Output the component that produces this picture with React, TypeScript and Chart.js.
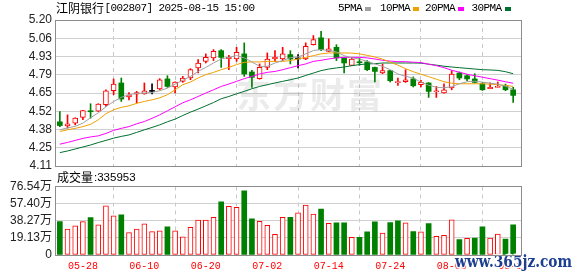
import React, { useEffect, useRef } from 'react';
import { Chart, registerables } from 'chart.js';

Chart.register(...registerables);

// ---------- data ----------
const stockName = '江阴银行';
const stockCode = '002807';
const stamp = '2025-08-15 15:00';
const volTitle = '成交量';
const lastVolume = '335953';
const watermarkCN = '东方财富';
const watermarkSite = 'www.365jz.com';

const dateLabels = ['05-28', '06-10', '06-20', '07-02', '07-14', '07-24', '08-05', '08-15'];
const dateIndex = [3, 11, 19, 27, 35, 43, 51, 59];

const priceLabels = ['4.11', '4.25', '4.38', '4.52', '4.65', '4.79', '4.93', '5.06', '5.20'];
const volLabels = ['0', '19.13万', '38.27万', '57.40万', '76.54万'];
const PRICE_MIN = 4.11;
const PRICE_MAX = 5.2;
const VOL_MAX = 76.54;

const opens = [4.440, 4.410, 4.430, 4.472, 4.522, 4.520, 4.567, 4.672, 4.730, 4.625,
  4.647, 4.649, 4.667, 4.685, 4.760, 4.700, 4.742, 4.767, 4.842, 4.891,
  4.917, 4.971, 4.912, 4.909, 4.947, 4.812, 4.762, 4.846, 4.909, 4.909,
  4.942, 4.909, 4.909, 5.016, 5.067, 4.966, 4.996, 4.917, 4.861, 4.886,
  4.887, 4.846, 4.804, 4.822, 4.732, 4.739, 4.760, 4.717, 4.730, 4.664,
  4.655, 4.692, 4.804, 4.784, 4.760, 4.724, 4.687, 4.697, 4.709, 4.679];
const highs = [4.517, 4.492, 4.470, 4.526, 4.575, 4.575, 4.679, 4.760, 4.767, 4.659,
  4.667, 4.730, 4.724, 4.762, 4.784, 4.739, 4.779, 4.837, 4.904, 4.947,
  4.979, 4.979, 4.936, 4.996, 5.029, 4.824, 4.872, 4.954, 4.971, 4.996,
  4.971, 4.942, 5.029, 5.084, 5.116, 5.059, 5.016, 4.919, 4.919, 4.917,
  4.897, 4.848, 4.872, 4.825, 4.767, 4.829, 4.775, 4.749, 4.732, 4.704,
  4.724, 4.822, 4.812, 4.792, 4.799, 4.734, 4.730, 4.737, 4.722, 4.697];
const lows = [4.404, 4.392, 4.417, 4.455, 4.467, 4.517, 4.554, 4.642, 4.592, 4.604,
  4.580, 4.646, 4.649, 4.679, 4.697, 4.655, 4.735, 4.754, 4.804, 4.879,
  4.897, 4.846, 4.829, 4.891, 4.779, 4.697, 4.758, 4.829, 4.891, 4.897,
  4.872, 4.842, 4.904, 5.013, 4.971, 4.964, 4.897, 4.804, 4.859, 4.861,
  4.822, 4.737, 4.799, 4.737, 4.712, 4.734, 4.700, 4.700, 4.622, 4.622,
  4.653, 4.679, 4.754, 4.747, 4.730, 4.674, 4.687, 4.697, 4.672, 4.584];
const closes = [4.412, 4.425, 4.467, 4.524, 4.515, 4.572, 4.672, 4.722, 4.610, 4.642,
  4.659, 4.672, 4.667, 4.754, 4.704, 4.737, 4.767, 4.829, 4.879, 4.921,
  4.966, 4.921, 4.921, 4.959, 4.797, 4.772, 4.846, 4.909, 4.924, 4.947,
  4.909, 4.909, 5.004, 5.054, 4.979, 4.984, 4.917, 4.879, 4.909, 4.881,
  4.829, 4.816, 4.822, 4.747, 4.737, 4.754, 4.709, 4.734, 4.667, 4.670,
  4.679, 4.797, 4.767, 4.760, 4.734, 4.679, 4.697, 4.704, 4.679, 4.637];

const ma5 = [4.380, 4.395, 4.406, 4.430, 4.470, 4.507, 4.552, 4.592, 4.623, 4.642,
  4.653, 4.655, 4.659, 4.672, 4.691, 4.721, 4.750, 4.779, 4.816, 4.846,
  4.879, 4.909, 4.921, 4.934, 4.917, 4.887, 4.854, 4.854, 4.879, 4.897,
  4.919, 4.924, 4.947, 4.972, 4.979, 4.972, 4.962, 4.934, 4.917, 4.909,
  4.891, 4.872, 4.854, 4.829, 4.797, 4.780, 4.766, 4.736, 4.713, 4.698,
  4.694, 4.702, 4.724, 4.739, 4.743, 4.736, 4.728, 4.721, 4.706, 4.683];
const ma10 = [4.368, 4.380, 4.391, 4.404, 4.421, 4.455, 4.500, 4.530, 4.548, 4.559,
  4.578, 4.592, 4.604, 4.619, 4.642, 4.679, 4.717, 4.737, 4.767, 4.792,
  4.809, 4.829, 4.846, 4.867, 4.884, 4.887, 4.887, 4.891, 4.891, 4.891,
  4.897, 4.909, 4.921, 4.934, 4.947, 4.954, 4.954, 4.954, 4.953, 4.947,
  4.936, 4.924, 4.908, 4.885, 4.863, 4.837, 4.814, 4.795, 4.777, 4.758,
  4.739, 4.728, 4.724, 4.724, 4.724, 4.724, 4.721, 4.717, 4.712, 4.704];
const ma20 = [4.273, 4.286, 4.301, 4.316, 4.327, 4.335, 4.353, 4.376, 4.391, 4.404,
  4.425, 4.442, 4.466, 4.492, 4.522, 4.552, 4.582, 4.604, 4.629, 4.655,
  4.679, 4.704, 4.722, 4.742, 4.762, 4.779, 4.797, 4.809, 4.816, 4.829,
  4.844, 4.859, 4.872, 4.891, 4.899, 4.909, 4.917, 4.921, 4.921, 4.921,
  4.917, 4.909, 4.899, 4.893, 4.889, 4.889, 4.885, 4.882, 4.870, 4.859,
  4.844, 4.825, 4.810, 4.795, 4.784, 4.773, 4.762, 4.751, 4.739, 4.728];
const ma30 = [4.210, 4.222, 4.237, 4.252, 4.267, 4.285, 4.301, 4.318, 4.331, 4.342,
  4.361, 4.380, 4.398, 4.417, 4.440, 4.460, 4.487, 4.512, 4.535, 4.559,
  4.584, 4.612, 4.629, 4.649, 4.667, 4.687, 4.704, 4.717, 4.730, 4.742,
  4.754, 4.767, 4.786, 4.804, 4.822, 4.834, 4.842, 4.849, 4.859, 4.867,
  4.872, 4.874, 4.879, 4.879, 4.879, 4.879, 4.879, 4.878, 4.870, 4.863,
  4.855, 4.849, 4.844, 4.839, 4.834, 4.829, 4.827, 4.824, 4.814, 4.799];

// volume in 万
const volumes = [37.3, 29.1, 32.5, 37.3, 41.8, 33.6, 54.9, 43.7, 44.8, 25.0,
  29.1, 34.7, 26.1, 26.9, 31.4, 26.9, 20.2, 31.0, 38.9, 38.9,
  42.2, 59.4, 54.5, 53.4, 71.7, 40.3, 37.7, 33.2, 23.2, 42.2,
  42.2, 47.1, 55.7, 45.6, 51.2, 35.5, 35.9, 35.9, 19.8, 19.8,
  25.8, 37.0, 24.6, 36.2, 38.1, 35.9, 26.1, 25.8, 35.1, 20.9,
  22.0, 39.2, 17.2, 18.7, 19.0, 31.4, 19.0, 23.5, 17.9, 33.6];
const volumeUp = [0, 1, 1, 1, 0, 1, 1, 1, 0, 1,
  1, 1, 1, 1, 0, 1, 1, 1, 1, 1,
  1, 0, 1, 1, 0, 0, 1, 1, 1, 1,
  0, 1, 1, 1, 0, 1, 0, 0, 1, 0,
  0, 0, 1, 0, 0, 1, 0, 1, 0, 1,
  1, 1, 0, 1, 0, 0, 1, 1, 0, 0];

const maNames = ['5PMA', '10PMA', '20PMA', '30PMA'];

// ---------- styles ----------
const RED = '#ff0000';
const GREEN = '#008000';
const BLACK = '#000000';
const MA_COLORS = ['#a0a0a0', '#f0a000', '#ff00ff', '#00702e'];
const GRID = '#d0d0d0';
const FRAME = '#8c8c8c';
const sansFont = "'Liberation Sans', 'Noto Sans CJK SC', sans-serif";
const monoFont = "'Liberation Mono', 'DejaVu Sans Mono', monospace";
const cjkFont = "'Noto Sans CJK SC', sans-serif";

const X_MIN = -0.5;
const X_MAX = 60.15;

const idx = closes.map((_, i) => i);
const candleColor = (i: number) => (closes[i] > opens[i] ? RED : closes[i] < opens[i] ? GREEN : BLACK);

const framePlugin = {
  id: 'frame',
  afterDraw(chart: any) {
    const { ctx, chartArea: a } = chart;
    ctx.save();
    ctx.strokeStyle = FRAME;
    ctx.lineWidth = 1;
    ctx.strokeRect(Math.floor(a.left) - 0.5, Math.floor(a.top) + 0.5, Math.round(a.right - a.left), Math.round(a.bottom - a.top));
    ctx.restore();
  },
};

const topTextPlugin = {
  id: 'topText',
  beforeDatasetsDraw(chart: any) {
    const { ctx } = chart;
    ctx.save();
    ctx.fillStyle = 'rgba(120,120,120,0.15)';
    ctx.font = `bold 35px ${cjkFont}`;
    ctx.textBaseline = 'middle';
    (ctx as any).letterSpacing = '2px';
    ctx.fillText(watermarkCN, 236, 95);
    ctx.restore();
  },
  afterDraw(chart: any) {
    const { ctx } = chart;
    ctx.save();
    ctx.fillStyle = '#000';
    ctx.textBaseline = 'middle';
    ctx.font = `12px ${cjkFont}`;
    ctx.fillText(stockName, 56, 8.5);
    const w = ctx.measureText(stockName).width;
    ctx.font = `11px ${monoFont}`;
    (ctx as any).letterSpacing = '-0.6px';
    ctx.fillText(`[${stockCode}] ${stamp}`, 56 + w + 0.5, 8.5);
    const legendX = [338, 380, 425, 471.5];
    maNames.forEach((name, k) => {
      ctx.fillStyle = '#000';
      ctx.fillText(name, legendX[k], 8.5);
      const tw = ctx.measureText(name).width;
      ctx.fillStyle = MA_COLORS[k];
      ctx.fillRect(Math.round(legendX[k] + tw + 3), 7, 6, 4);
    });
    ctx.restore();
  },
};

const bottomTextPlugin = {
  id: 'bottomText',
  afterDraw(chart: any) {
    const { ctx } = chart;
    ctx.save();
    ctx.fillStyle = '#000';
    ctx.textBaseline = 'middle';
    ctx.font = `12px ${cjkFont}`;
    ctx.fillText(volTitle, 57, 9.5);
    const w = ctx.measureText(volTitle).width;
    ctx.font = `11.5px ${sansFont}`;
    ctx.fillText(`:${lastVolume}`, 57 + w + 1, 9.5);
    // site watermark
    ctx.font = `bold 16px 'DejaVu Serif', serif`;
    ctx.textBaseline = 'alphabetic';
    const sw = ctx.measureText(watermarkSite).width;
    ctx.translate(455, 98.5);
    ctx.scale(117 / sw, 1);
    ctx.lineWidth = 3;
    ctx.strokeStyle = 'rgba(255,255,255,0.9)';
    ctx.lineJoin = 'round';
    ctx.strokeText(watermarkSite, 0, 0);
    ctx.fillStyle = '#1d3f8f';
    ctx.fillText(watermarkSite, 0, 0);
    ctx.restore();
  },
};

const xScale = (showLabels: boolean, height: number) => ({
  type: 'linear' as const,
  min: X_MIN,
  max: X_MAX,
  offset: false,
  afterBuildTicks: (s: any) => {
    s.ticks = dateIndex.map((v) => ({ value: v }));
  },
  afterFit: (s: any) => {
    s.height = height;
    s.paddingLeft = 0;
    s.paddingRight = 0;
  },
  grid: { color: '#c8c8c8', lineWidth: 1, drawTicks: false },
  border: { display: false, dash: [4, 4] },
  ticks: {
    display: showLabels,
    autoSkip: false,
    maxRotation: 0,
    padding: 5,
    color: RED,
    font: { family: monoFont, size: 10 },
    callback: (v: any) => dateLabels[dateIndex.indexOf(Number(v))] ?? '',
  },
});

const yScale = (min: number, max: number, labels: string[]) => ({
  type: 'linear' as const,
  min,
  max,
  afterBuildTicks: (s: any) => {
    s.ticks = labels.map((_, k) => ({ value: min + ((max - min) * k) / (labels.length - 1) }));
  },
  afterFit: (s: any) => {
    s.width = 56;
    s.paddingTop = 0;
    s.paddingBottom = 0;
  },
  grid: { color: GRID, drawTicks: false },
  border: { display: false },
  ticks: {
    autoSkip: false,
    padding: 4,
    color: '#222',
    font: { family: sansFont, size: 12 },
    callback: (_v: any, k: number) => labels[k],
  },
});

export default function App() {
  const topRef = useRef<HTMLCanvasElement>(null);
  const botRef = useRef<HTMLCanvasElement>(null);

  useEffect(() => {
    const wickData = idx.map((i) => ({ x: i, y: [lows[i], highs[i]] }));
    const bodyData = idx.map((i) => ({ x: i, y: [Math.min(opens[i], closes[i]), Math.max(opens[i], closes[i])] }));
    const colors = idx.map(candleColor);
    const bodyFill = idx.map((i) => (closes[i] > opens[i] ? '#ffffff' : candleColor(i)));
    const bodyBorderW = idx.map((i) => (closes[i] > opens[i] ? 1 : 0));
    const maSets = [ma5, ma10, ma20, ma30].map((arr, k) => ({
      type: 'line' as const,
      data: idx.map((i) => ({ x: i, y: arr[i] })),
      borderColor: MA_COLORS[k],
      borderWidth: 1,
      pointRadius: 0,
      tension: 0,
      fill: false,
      order: 1,
    }));

    const top = new Chart(topRef.current as HTMLCanvasElement, {
      type: 'bar',
      data: {
        datasets: [
          ...maSets,
          {
            type: 'bar',
            data: bodyData as any,
            backgroundColor: bodyFill,
            borderColor: colors,
            borderWidth: bodyBorderW,
            borderSkipped: false,
            barThickness: 5,
            minBarLength: 1,
            grouped: false,
            order: 2,
          } as any,
          {
            type: 'bar',
            data: wickData as any,
            backgroundColor: colors,
            borderWidth: 0,
            barThickness: 1,
            grouped: false,
            order: 3,
          } as any,
        ],
      },
      options: {
        responsive: false,
        devicePixelRatio: 1,
        animation: false,
        layout: { padding: { top: 20, right: 56, bottom: 4, left: 0 } },
        plugins: { legend: { display: false }, tooltip: { enabled: false } },
        scales: {
          x: xScale(false, 0) as any,
          y: yScale(PRICE_MIN, PRICE_MAX, priceLabels) as any,
        },
      },
      plugins: [topTextPlugin, framePlugin],
    });

    const bottom = new Chart(botRef.current as HTMLCanvasElement, {
      type: 'bar',
      data: {
        datasets: [
          {
            data: idx.map((i) => ({ x: i, y: volumes[i] })) as any,
            backgroundColor: idx.map((i) => (volumeUp[i] ? '#ffffff' : GREEN)),
            borderColor: idx.map((i) => (volumeUp[i] ? RED : GREEN)),
            borderWidth: idx.map((i) => (volumeUp[i] ? 1 : 0)),
            borderSkipped: false,
            barThickness: 5,
            grouped: false,
          } as any,
        ],
      },
      options: {
        responsive: false,
        devicePixelRatio: 1,
        animation: false,
        layout: { padding: { top: 18.5, right: 56, bottom: 0, left: 0 } },
        plugins: { legend: { display: false }, tooltip: { enabled: false } },
        scales: {
          x: xScale(true, 21) as any,
          y: yScale(0, VOL_MAX, volLabels) as any,
        },
      },
      plugins: [bottomTextPlugin, framePlugin],
    });

    return () => {
      top.destroy();
      bottom.destroy();
    };
  }, []);

  return (
    <div style={{ position: 'absolute', left: 0, top: 0, width: 578, height: 276, background: '#fff', overflow: 'hidden' }}>
      <canvas ref={topRef} width={578} height={170} style={{ position: 'absolute', left: 0, top: 0, width: 578, height: 170 }} />
      <canvas ref={botRef} width={578} height={108} style={{ position: 'absolute', left: 0, top: 168, width: 578, height: 108 }} />
    </div>
  );
}
